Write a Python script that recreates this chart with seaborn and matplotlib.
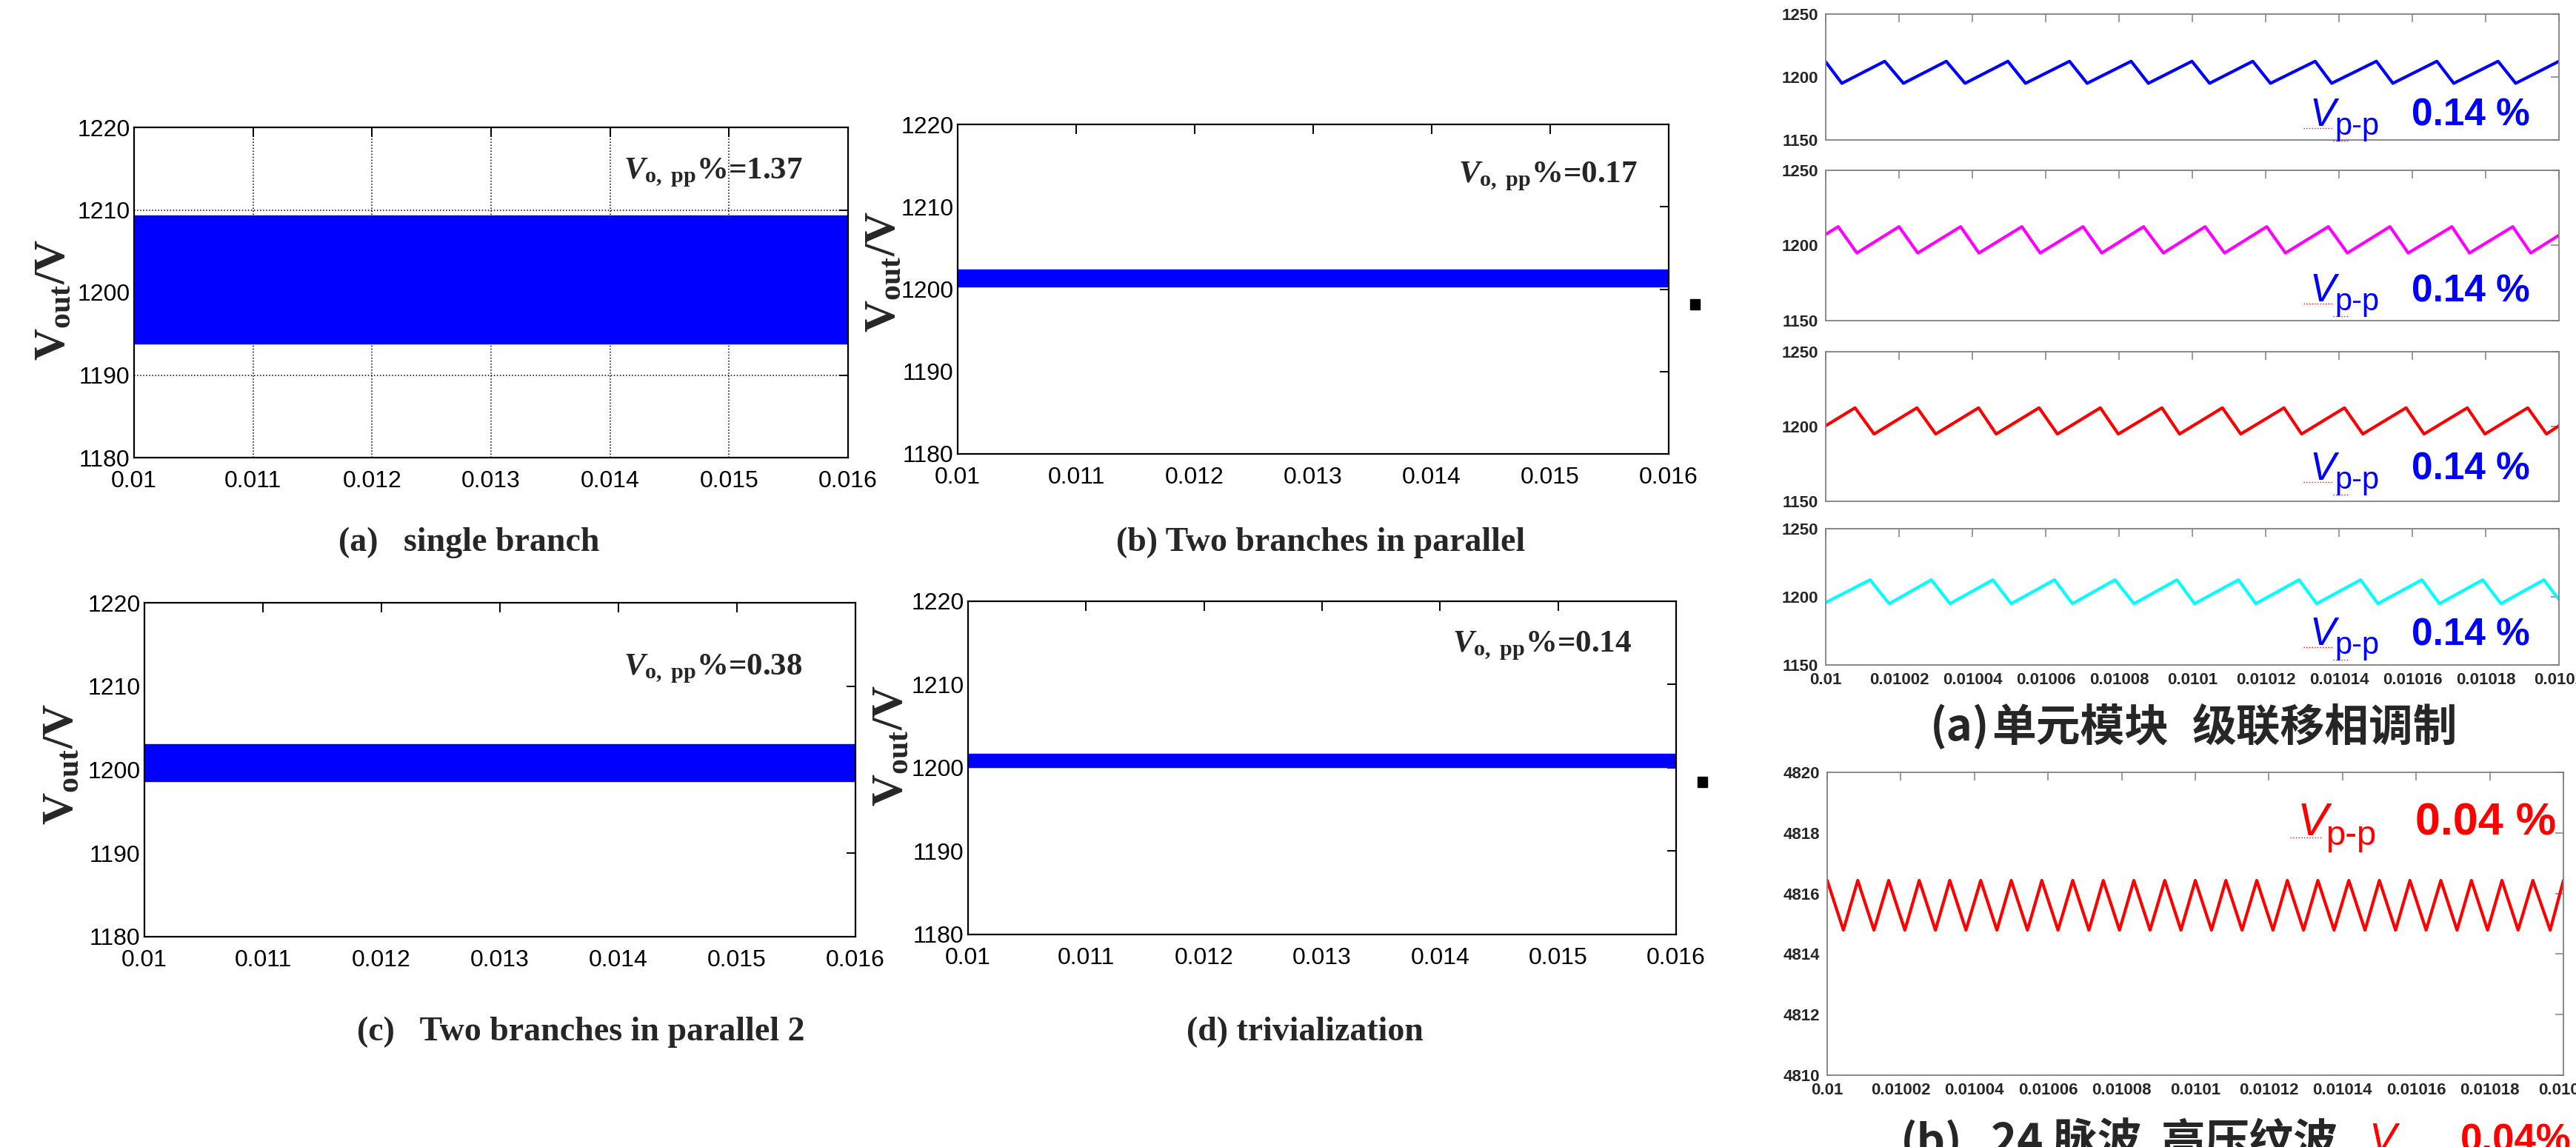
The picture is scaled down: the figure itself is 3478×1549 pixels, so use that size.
import numpy as np
import pandas as pd
import matplotlib
matplotlib.use('Agg')
import matplotlib.pyplot as plt
import seaborn as sns
from matplotlib.patches import Rectangle
from matplotlib.lines import Line2D

sns.set_style('white')
plt.rcParams['font.family'] = ['Liberation Sans', 'Noto Sans CJK SC', 'DejaVu Sans']
plt.rcParams['mathtext.fontset'] = 'custom'
plt.rcParams['mathtext.rm'] = 'Liberation Serif:bold'
plt.rcParams['mathtext.bf'] = 'Liberation Serif:bold'
plt.rcParams['mathtext.it'] = 'Liberation Serif:italic:bold'

# ---- left block: output voltage of the four topologies (dense ripple drawn as envelope) ----
t_span = [0.010, 0.016]
band_lo = [1193.8, 1200.3, 1198.6, 1200.1]
band_hi = [1209.3, 1202.4, 1203.1, 1201.7]
ripple_pct = ['1.37', '0.17', '0.38', '0.14']
left_captions = ['(a)   single branch', '(b) Two branches in parallel',
                 '(c)   Two branches in parallel 2', '(d) trivialization']
left_xticks = [0.010, 0.011, 0.012, 0.013, 0.014, 0.015, 0.016]
left_xlabels = ['0.01', '0.011', '0.012', '0.013', '0.014', '0.015', '0.016']
left_yticks = [1180, 1190, 1200, 1210, 1220]

# ---- right block: module voltages, vertices read in microseconds after t = 0.01 s ----
blue_pk = [16.1, 32.9, 49.7, 66.5, 83.3, 99.9, 116.5, 133.5, 150.2, 166.7, 183.4, 200.0]
blue_tr = [4.4, 21.2, 38.0, 54.5, 71.3, 88.0, 104.7, 121.3, 138.0, 154.7, 171.3, 188.2]
blue_ends = [(0.0, 1212.0)]
mag_pk = [3.4, 20.0, 36.8, 53.5, 70.2, 86.7, 103.5, 120.3, 137.1, 153.9, 170.8, 187.4]
mag_tr = [8.5, 25.1, 41.8, 58.5, 75.3, 92.1, 108.8, 125.4, 142.3, 158.9, 175.6, 192.3]
mag_ends = [(0.0, 1207.4), (200.0, 1206.8)]
red_pk = [8.0, 24.9, 41.7, 58.2, 74.9, 91.7, 108.2, 125.0, 141.5, 158.3, 175.0, 191.5]
red_tr = [13.2, 30.0, 46.5, 63.2, 79.8, 96.5, 113.2, 129.8, 146.5, 163.2, 179.8, 196.6]
red_ends = [(0.0, 1200.5), (200.0, 1200.5)]
cyan_pk = [12.1, 28.8, 45.6, 62.4, 78.9, 95.8, 112.6, 129.1, 145.9, 162.6, 179.2, 195.9]
cyan_tr = [17.3, 33.9, 50.6, 67.3, 84.1, 100.6, 117.3, 133.9, 150.6, 167.4, 184.2]
cyan_ends = [(0.0, 1195.8), (200.0, 1198.0)]
module_hi = 1212.5
module_lo = 1195.0

hv_pk = [0.0, 8.3, 16.7, 25.0, 33.3, 41.7, 50.0, 58.3, 66.7, 75.0, 83.3, 91.7, 100.0,
         108.3, 116.7, 125.0, 133.3, 141.7, 150.0, 158.3, 166.7, 175.0, 183.3, 191.7, 200.0]
hv_tr = [4.4, 12.7, 21.1, 29.4, 37.7, 46.1, 54.4, 62.7, 71.1, 79.4, 87.7, 96.1,
         104.4, 112.7, 121.1, 129.4, 137.7, 146.1, 154.4, 162.7, 171.1, 179.4, 187.7, 196.4]
hv_hi = 4816.43
hv_lo = 4814.79

right_xticks = [0.01, 0.01002, 0.01004, 0.01006, 0.01008, 0.0101,
                0.01012, 0.01014, 0.01016, 0.01018, 0.0102]
right_xlabels = ['0.01', '0.01002', '0.01004', '0.01006', '0.01008', '0.0101',
                 '0.01012', '0.01014', '0.01016', '0.01018', '0.0102']
module_yticks = [1150, 1200, 1250]
hv_yticks = [4810, 4812, 4814, 4816, 4818, 4820]

W, H = 3478, 1549
fig = plt.figure(figsize=(W / 100, H / 100), dpi=100, facecolor='white')


def px_axes(left, top, right, bottom):
    return fig.add_axes([left / W, 1 - bottom / H, (right - left) / W, (bottom - top) / H])


def fig_text(x, y, s, **kw):
    return fig.text(x / W, 1 - y / H, s, **kw)


def saw_frame(pk, tr, hi, lo, ends):
    us = list(pk) + list(tr) + [e[0] for e in ends]
    v = [hi] * len(pk) + [lo] * len(tr) + [e[1] for e in ends]
    df = pd.DataFrame({'us': us, 'v': v}).sort_values('us')
    df['t'] = 0.01 + df['us'] * 1e-6
    return df


# ================= left four panels =================
left_rects = [(181, 172, 1145, 618), (1293, 168, 2253, 613),
              (195, 814, 1155, 1265), (1307, 812, 2263, 1262)]
ann_pos = [(0.686, 0.845), (0.704, 0.823), (0.674, 0.785), (0.684, 0.849)]
ylab_pos = [(71, 405), (1192, 367), (82, 1032), (1202, 1007)]
cap_pos = [(633, 733), (1783, 733), (784, 1394), (1762, 1394)]

for i, rect in enumerate(left_rects):
    ax = px_axes(*rect)
    env = pd.DataFrame({'t': t_span * 2,
                        'v': [band_lo[i]] * 2 + [band_hi[i]] * 2,
                        'edge': ['lo', 'lo', 'hi', 'hi']})
    ax.fill_between(t_span, band_lo[i], band_hi[i], color='#0000ff', lw=0, zorder=2)
    sns.lineplot(data=env, x='t', y='v', units='edge', estimator=None,
                 color='#0000ff', lw=1, ax=ax, zorder=2)
    ax.set_xlim(0.010, 0.016)
    ax.set_ylim(1180, 1220)
    ax.set_xticks(left_xticks)
    ax.set_xticklabels(left_xlabels)
    ax.set_yticks(left_yticks)
    ax.set_xlabel('')
    ax.set_ylabel('')
    ax.tick_params(direction='in', length=9, width=1.4, top=True, right=True,
                   labelsize=23, colors='black')
    ax.tick_params(axis='x', pad=12)
    ax.tick_params(axis='y', pad=4)
    for sp in ax.spines.values():
        sp.set_visible(True)
        sp.set_color('black')
        sp.set_linewidth(1.6)
    if i == 0:
        ax.set_axisbelow(True)
        ax.grid(True, color='black', ls=':', lw=1.1)
    ax.text(ann_pos[i][0], ann_pos[i][1], r'$V_{\rm o,\ pp}$%=' + ripple_pct[i],
            transform=ax.transAxes, ha='left', va='baseline', fontsize=31,
            family='Liberation Serif', weight='bold')
    fig_text(ylab_pos[i][0], ylab_pos[i][1], r'$\mathbf{V_{out}/V}$', rotation=90,
             ha='center', va='center', fontsize=43)
    fig_text(cap_pos[i][0], cap_pos[i][1], left_captions[i], ha='center', va='center',
             fontsize=33, family='Liberation Serif', weight='bold')

# stray marks next to panels (b) and (d)
for cx, cy in [(2288, 411), (2298, 1056)]:
    fig.add_artist(Rectangle(((cx - 6) / W, 1 - (cy + 7) / H), 13 / W, 14 / H,
                             transform=fig.transFigure, color='black'))

# ================= right: four module panels =================
mod_rects = [(2465, 19, 3455, 189), (2465, 230, 3455, 433),
             (2465, 475, 3455, 677), (2465, 714, 3455, 898)]
mod_series = [(blue_pk, blue_tr, blue_ends, '#0000ff'),
              (mag_pk, mag_tr, mag_ends, '#ff00ff'),
              (red_pk, red_tr, red_ends, '#ff0000'),
              (cyan_pk, cyan_tr, cyan_ends, '#00ffff')]
mod_base = [170, 407, 648, 871]
GREY = '#808080'


def style_right(ax, yticks, show_x):
    ax.set_xlim(0.01, 0.0102)
    ax.set_xticks(right_xticks)
    ax.set_yticks(yticks)
    ax.set_xlabel('')
    ax.set_ylabel('')
    ax.tick_params(direction='in', length=8, width=1.1, top=True, right=True,
                   color=GREY, labelsize=16, pad=7)
    ax.set_yticklabels([str(v) for v in yticks], fontweight='bold')
    if show_x:
        ax.set_xticklabels(right_xlabels, fontweight='bold')
    else:
        ax.set_xticklabels([])
    for sp in ax.spines.values():
        sp.set_visible(True)
        sp.set_color(GREY)
        sp.set_linewidth(1.3)


for i, rect in enumerate(mod_rects):
    ax = px_axes(*rect)
    pk, tr, ends, col = mod_series[i]
    df = saw_frame(pk, tr, module_hi, module_lo, ends)
    sns.lineplot(data=df, x='t', y='v', sort=False, estimator=None, color=col,
                 lw=3.0, ax=ax)
    ax.set_ylim(1150, 1250)
    style_right(ax, module_yticks, i == 3)
    b = mod_base[i]
    fig_text(3118, b, 'V', ha='left', va='baseline', fontsize=38, style='italic',
             color='#0000ff')
    fig_text(3152, b + 12, 'p-p', ha='left', va='baseline', fontsize=30, color='#0000ff')
    fig_text(3256, b, '0.14 %', ha='left', va='baseline', fontsize=37, weight='bold',
             color='#0000ff')
    fig.add_artist(Line2D([3110 / W, 3150 / W], [1 - (b + 3) / H] * 2, color='red',
                          lw=1, ls=':', transform=fig.transFigure))
    fig.add_artist(Line2D([3150 / W, 3172 / W], [1 - (b + 20) / H] * 2, color='red',
                          lw=1, ls=':', transform=fig.transFigure))

for x, s in [(2606, '(a)'), (2689, '单元模块'), (2960, '级联移相调制')]:
    fig_text(x, 1000, s, ha='left', va='baseline', fontsize=43, weight='bold',
             family=['Noto Sans CJK SC'])

# ================= right: 24-pulse high-voltage output =================
ax = px_axes(2467, 1043, 3461, 1452)
df = saw_frame(hv_pk, hv_tr, hv_hi, hv_lo, [])
sns.lineplot(data=df, x='t', y='v', sort=False, estimator=None, color='#ff0000',
             lw=3.0, ax=ax)
ax.set_ylim(4810, 4820)
style_right(ax, hv_yticks, True)
fig_text(3102, 1128, 'V', ha='left', va='baseline', fontsize=45, style='italic',
         color='#ff0000')
fig_text(3140, 1141, 'p-p', ha='left', va='baseline', fontsize=34, color='#ff0000')
fig_text(3261, 1128, '0.04 %', ha='left', va='baseline', fontsize=44, weight='bold',
         color='#ff0000')
fig.add_artist(Line2D([3092 / W, 3135 / W], [1 - 1131 / H] * 2, color='red',
                      lw=1, ls=':', transform=fig.transFigure))

for x, s in [(2566, '(b)'), (2688, '24 脉波'), (2918, '高压纹波')]:
    fig_text(x, 1561, s, ha='left', va='baseline', fontsize=43, weight='bold',
             family=['Noto Sans CJK SC'])
fig_text(3198, 1555, 'V', ha='left', va='baseline', fontsize=40, style='italic',
         color='#ff0000')
fig_text(3248, 1570, 'p-p', ha='left', va='baseline', fontsize=28, color='#ff0000')
fig_text(3322, 1555, '0.04%', ha='left', va='baseline', fontsize=38, weight='bold',
         color='#ff0000')

fig.savefig('out.png', dpi=100, facecolor='white')
